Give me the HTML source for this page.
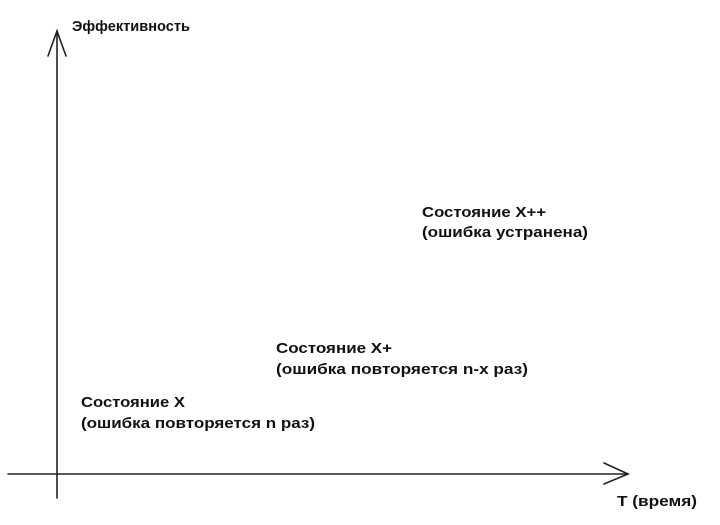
<!DOCTYPE html>
<html><head><meta charset="utf-8"><style>
html,body{margin:0;padding:0;background:#fff;width:720px;height:525px;overflow:hidden}
svg{display:block}
text{font-family:"Liberation Sans","DejaVu Sans",sans-serif;font-size:15px;fill:#111;font-weight:bold}
</style></head><body>
<svg width="720" height="525" viewBox="0 0 720 525">
<g stroke="#222" stroke-width="1.6" fill="none" stroke-linecap="round">
<line x1="57" y1="31" x2="57" y2="498"/>
<polyline points="48,56 57,31 66,56"/>
<line x1="8" y1="474" x2="628" y2="474"/>
<polyline points="604,463 628,474 604,484"/>
</g>
<text x="72" y="31" textLength="118" lengthAdjust="spacingAndGlyphs">Эффективность</text>
<text x="617" y="506" textLength="80" lengthAdjust="spacingAndGlyphs">T (время)</text>
<text x="422" y="217" textLength="124" lengthAdjust="spacingAndGlyphs">Состояние X++</text>
<text x="422" y="237" textLength="166" lengthAdjust="spacingAndGlyphs">(ошибка устранена)</text>
<text x="276" y="353" textLength="116" lengthAdjust="spacingAndGlyphs">Состояние X+</text>
<text x="276" y="374" textLength="252" lengthAdjust="spacingAndGlyphs">(ошибка повторяется n-x раз)</text>
<text x="81" y="407" textLength="104" lengthAdjust="spacingAndGlyphs">Состояние X</text>
<text x="81" y="428" textLength="234" lengthAdjust="spacingAndGlyphs">(ошибка повторяется n раз)</text>
</svg>
</body></html>
